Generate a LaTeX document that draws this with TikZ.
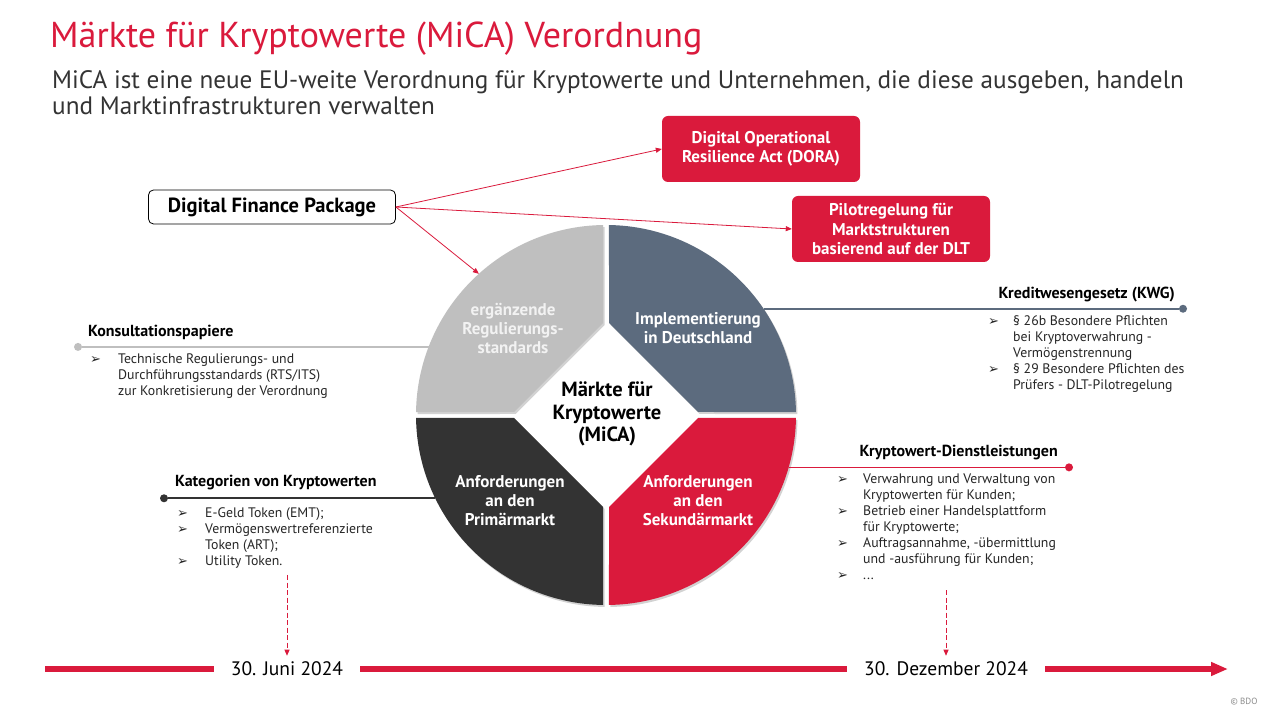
\documentclass[tikz,border=0pt]{standalone}
\usepackage{fontspec}
\setmainfont{PT Sans}
\newfontfamily\symfont{DejaVu Sans}
\definecolor{bdoRed}{HTML}{DA1A3C}
\definecolor{slateBlue}{HTML}{5C6B7E}
\definecolor{darkGrey}{HTML}{333333}
\definecolor{lightGrey}{HTML}{BFBFBF}
\definecolor{textDark}{HTML}{262626}
\definecolor{subGrey}{HTML}{333333}
\usetikzlibrary{arrows.meta, shadows}
\newcommand{\bul}{{\symfont\fontsize{13}{13}\selectfont ➢}}

\begin{document}
\begin{tikzpicture}[x=1pt, y=1pt,
    redbox/.style={fill=bdoRed, rounded corners=6pt, minimum width=198pt, minimum height=66pt,
      text=white, font=\fontsize{17}{19.5}\selectfont\bfseries, align=center, inner sep=0},
    pkgbox/.style={draw=black, fill=white, rounded corners=5pt, line width=0.8pt,
      minimum width=247pt, minimum height=34pt, font=\fontsize{20.5}{24}\selectfont\bfseries},
    pkgarrow/.style={draw=bdoRed, line width=0.8pt, -{Triangle[length=6pt, width=5pt]}},
    quarter/.style={drop shadow={shadow xshift=1.5pt, shadow yshift=-2pt, opacity=0.35, fill=black!50}},
    qlabel/.style={text=white, font=\fontsize{17}{19}\selectfont\bfseries, align=center},
    hdr/.style={font=\fontsize{16}{18}\selectfont\bfseries, text=black, inner sep=0},
    lst/.style={font=\fontsize{13.8}{16}\selectfont, text=textDark, inner sep=0, anchor=north west},
    endDot/.style={circle, fill=#1, inner sep=0, minimum size=8pt},
    link/.style={line width=1.6pt, draw=#1},
    timeBar/.style={line width=5.5pt, draw=bdoRed},
    dateLbl/.style={font=\fontsize{19.5}{22}\selectfont, inner xsep=17pt, inner ysep=6pt},
    dasharrow/.style={draw=bdoRed, line width=0.8pt, dash pattern=on 5pt off 2.5pt,
      -{Triangle[length=6pt, width=5pt]}}]

  \fill[white] (0,0) rectangle (1281,720);
  \useasboundingbox (0,0) rectangle (1281,720);

  \node[anchor=base west, inner sep=0, text=bdoRed, font=\fontsize{36}{42}\selectfont] (title) at (50,672)
    {Märkte für Kryptowerte (MiCA) Verordnung};
  \node[anchor=base west, inner sep=0, text=subGrey, font=\fontsize{25.2}{28}\selectfont] (sub) at (52,631)
    {MiCA ist eine neue EU-weite Verordnung für Kryptowerte und Unternehmen, die diese ausgeben, handeln};
  \node[anchor=base west, inner sep=0, text=subGrey, font=\fontsize{25.2}{28}\selectfont] (subb) at (52,605)
    {und Marktinfrastrukturen verwalten};

  \node[pkgbox] (dfp) at (272,513) {Digital Finance Package};
  \node[redbox] (dora) at (761,571) {Digital Operational\\Resilience Act (DORA)};
  \node[redbox] (pilot) at (891,491) {Pilotregelung für\\Marktstrukturen\\basierend auf der DLT};

  \node[circle, minimum size=380pt, inner sep=0, outer sep=0] (ring) at (606,305) {};

  \draw[pkgarrow] (dfp.east) -- (dora.west);
  \draw[pkgarrow] (dfp.east) -- (pilot.west);
  \draw[pkgarrow] (dfp.east) -- (ring.132);

  \begin{scope}[shift={(ring.center)}]
    \fill[lightGrey, quarter] (-3,92) -- (90.9:190) arc[start angle=90.9, end angle=179.1, radius=190pt] -- (-92,3) -- cycle;
    \fill[slateBlue, quarter] (3,92) -- (89.1:190) arc[start angle=89.1, end angle=0.9, radius=190pt] -- (92,3) -- cycle;
    \fill[darkGrey, quarter] (-3,-92) -- (-90.9:190) arc[start angle=-90.9, end angle=-179.1, radius=190pt] -- (-92,-3) -- cycle;
    \fill[bdoRed, quarter] (3,-92) -- (-89.1:190) arc[start angle=-89.1, end angle=-0.9, radius=190pt] -- (92,-3) -- cycle;

    \node[qlabel, text=white!95!black] (qStd) at (-93,87) {ergänzende\\Regulierungs-\\standards};
    \node[qlabel] (qImpl) at (92,87) {Implementierung\\in Deutschland};
    \node[qlabel] (qPrim) at (-96,-86) {Anforderungen\\an den\\Primärmarkt};
    \node[qlabel] (qSek) at (92,-86) {Anforderungen\\an den\\Sekundärmarkt};
    \node[font=\fontsize{20.5}{22.5}\selectfont\bfseries, align=center] (core) at (1,1) {Märkte für\\Kryptowerte\\(MiCA)};
  \end{scope}

  \coordinate (konsX) at (78,0);
  \coordinate (kwgX) at (1183,0);
  \coordinate (katX) at (164,0);
  \coordinate (dienstX) at (1069,0);
  \node[endDot=lightGrey] (konsDot) at (ring.159 -| konsX) {};
  \node[endDot=slateBlue] (kwgDot) at (ring.34 -| kwgX) {};
  \node[endDot=darkGrey] (katDot) at (ring.206 -| katX) {};
  \node[endDot=bdoRed] (dienstDot) at (ring.344 -| dienstX) {};
  \draw[link=lightGrey] (konsDot) -- (ring.159);
  \draw[link=slateBlue] (ring.34) -- (kwgDot);
  \draw[link=darkGrey] (katDot) -- (ring.206);
  \draw[link=bdoRed] (ring.344) -- (dienstDot);

  \node[hdr, anchor=base west] (konsHdr) at (88,383) {Konsultationspapiere};
  \node[lst] (konsList) at (90,368.2) {\begin{tabular}{@{}p{28pt}@{}l@{}}
    \bul & Technische Regulierungs- und\\
         & Durchführungsstandards (RTS/ITS)\\
         & zur Konkretisierung der Verordnung
  \end{tabular}};

  \node[hdr, anchor=base east] (kwgHdr) at (1175,421) {Kreditwesengesetz (KWG)};
  \node[lst] (kwgList) at (988,406.2) {\begin{tabular}{@{}p{25pt}@{}l@{}}
    \bul & § 26b Besondere Pflichten\\
         & bei Kryptoverwahrung -\\
         & Vermögenstrennung\\
    \bul & § 29 Besondere Pflichten des\\
         & Prüfers - DLT-Pilotregelung
  \end{tabular}};

  \node[hdr, anchor=base west] (katHdr) at (175,233) {Kategorien von Kryptowerten};
  \node[lst] (katList) at (177,214.2) {\begin{tabular}{@{}p{28pt}@{}l@{}}
    \bul & E-Geld Token (EMT);\\
    \bul & Vermögenswertreferenzierte\\
         & Token (ART);\\
    \bul & Utility Token.
  \end{tabular}};

  \node[hdr, anchor=base east] (dienstHdr) at (1058,263) {Kryptowert-Dienstleistungen};
  \node[lst] (dienstList) at (837,248.2) {\begin{tabular}{@{}p{26pt}@{}l@{}}
    \bul & Verwahrung und Verwaltung von\\
         & Kryptowerten für Kunden;\\
    \bul & Betrieb einer Handelsplattform\\
         & für Kryptowerte;\\
    \bul & Auftragsannahme, -übermittlung\\
         & und -ausführung für Kunden;\\
    \bul & ...
  \end{tabular}};

  \coordinate (tlStart) at (45,51);
  \coordinate (tlEnd) at (1228,51);
  \node[dateLbl] (juni) at (287,51) {30. Juni 2024};
  \node[dateLbl] (dez) at (946,51) {30. Dezember 2024};
  \draw[timeBar] (tlStart) -- (juni.west);
  \draw[timeBar] (juni.east) -- (dez.west);
  \draw[timeBar, -{Triangle[length=17pt, width=13pt]}] (dez.east) -- (tlEnd);

  \coordinate (juniFrom) at (287,145);
  \coordinate (dezFrom) at (946,130);
  \draw[dasharrow] (juniFrom) -- (juni.north);
  \draw[dasharrow] (dezFrom) -- (dez.north);

  \node[text=black!45, font=\fontsize{9}{10}\selectfont] (copy) at (1244,18) {© BDO};
\end{tikzpicture}
\end{document}
